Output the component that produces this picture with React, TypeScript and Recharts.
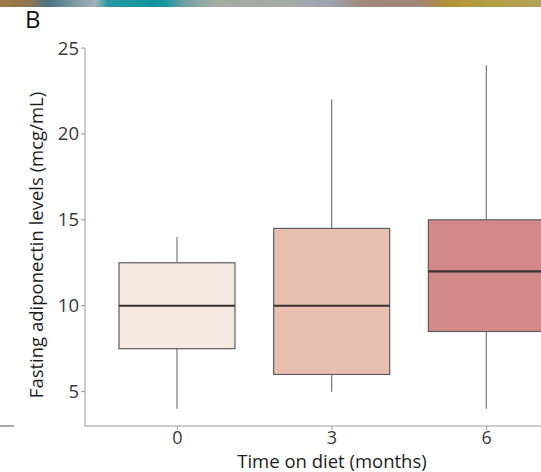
import React from "react";
import { Bar, ComposedChart, XAxis, YAxis } from "recharts";

const months = ["0", "3", "6"];
const whiskerLow = [4, 5, 4];
const q1 = [7.5, 6, 8.5];
const median = [10, 10, 12];
const q3 = [12.5, 14.5, 15];
const whiskerHigh = [14, 22, 24];
const boxColors = ["#f5e7e2", "#e9bfb1", "#d3888a"];
const yTicks = [5, 10, 15, 20, 25];

const data = months.map((m, i) => ({
  month: m,
  range: [whiskerLow[i], whiskerHigh[i]],
  low: whiskerLow[i],
  q1: q1[i],
  median: median[i],
  q3: q3[i],
  high: whiskerHigh[i],
  fill: boxColors[i],
}));

const FONT = "'Open Sans', 'Noto Sans', sans-serif";

function BoxShape(props: any) {
  const { x, y, width, height, payload } = props;
  const top = Math.min(y, y + height);
  const bottom = Math.max(y, y + height);
  const { low, high } = payload;
  const py = (v: number) => bottom - ((v - low) / (high - low)) * (bottom - top);
  const cx = x + width / 2;
  return (
    <g>
      <line x1={cx} x2={cx} y1={py(high)} y2={py(payload.q3)} stroke="#7a7a7a" strokeWidth={1.2} />
      <line x1={cx} x2={cx} y1={py(payload.q1)} y2={py(low)} stroke="#7a7a7a" strokeWidth={1.2} />
      <rect
        x={x}
        y={py(payload.q3)}
        width={width}
        height={py(payload.q1) - py(payload.q3)}
        fill={payload.fill}
        stroke="#5e5e5e"
        strokeWidth={1.2}
      />
      <line x1={x} x2={x + width} y1={py(payload.median)} y2={py(payload.median)} stroke="#3a3030" strokeWidth={2.2} />
    </g>
  );
}

export default function App() {
  return (
    <div
      style={{
        position: "fixed",
        left: 0,
        top: 0,
        width: 541,
        height: 472,
        overflow: "hidden",
        background: "#fff",
        fontFamily: FONT,
      }}
    >
      <div
        style={{
          position: "absolute",
          left: 0,
          top: 0,
          width: 541,
          height: 7,
          background:
            "linear-gradient(90deg, #a07a45 0px, #8c7550 30px, #4d7282 48px, #7d9ba2 75px, #a3b0b4 95px, #2a98a2 108px, #0e949e 150px, #1a96a0 165px, #72a0a6 185px, #a6ada2 215px, #a4aaa6 290px, #9ca2b0 330px, #a08a7c 360px, #a08676 420px, #b39432 450px, #b2a048 500px, #b3a45a 541px)",
        }}
      />
      <div
        style={{
          position: "absolute",
          left: 25,
          top: 6,
          fontSize: 24,
          color: "#111",
          fontFamily: FONT,
          lineHeight: "26px",
        }}
      >
        B
      </div>
      <div
        style={{
          position: "absolute",
          left: 0,
          top: 425,
          width: 14,
          height: 1.5,
          background: "#aaa",
        }}
      />
      <div style={{ position: "absolute", left: 0, top: 0 }}>
        <ComposedChart
          width={600}
          height={472}
          data={data}
          margin={{ top: 48, right: 21, bottom: 16, left: 25 }}
        >
          <XAxis
            dataKey="month"
            type="category"
            padding={{ left: 15, right: 15 }}
            height={30}
            stroke="#9a9a9a"
            tickSize={4}
            tickMargin={1}
            tick={{ fill: "#3a3a3a", fontSize: 18, fontFamily: FONT }}
            label={{
              content: (p: any) => {
                const vb = p.viewBox;
                return (
                  <text
                    x={332}
                    y={vb.y + 42}
                    textAnchor="middle"
                    fill="#1e1e1e"
                    fontSize={18.5}
                    fontFamily={FONT}
                  >
                    Time on diet (months)
                  </text>
                );
              },
            }}
          />
          <YAxis
            type="number"
            domain={[3, 25]}
            ticks={yTicks}
            width={60}
            stroke="#9a9a9a"
            tickSize={4}
            tickMargin={2}
            tick={{ fill: "#3a3a3a", fontSize: 18.5, fontFamily: FONT }}
            label={{
              content: (p: any) => {
                const vb = p.viewBox;
                const cy = vb.y + vb.height / 2 + 8;
                return (
                  <text
                    x={43}
                    y={cy}
                    transform={`rotate(-90, 43, ${cy})`}
                    textAnchor="middle"
                    fill="#1e1e1e"
                    fontSize={18.5}
                    fontFamily={FONT}
                  >
                    Fasting adiponectin levels (mcg/mL)
                  </text>
                );
              },
            }}
          />
          <Bar dataKey="range" barSize={116} shape={BoxShape} isAnimationActive={false} />
        </ComposedChart>
      </div>
    </div>
  );
}
